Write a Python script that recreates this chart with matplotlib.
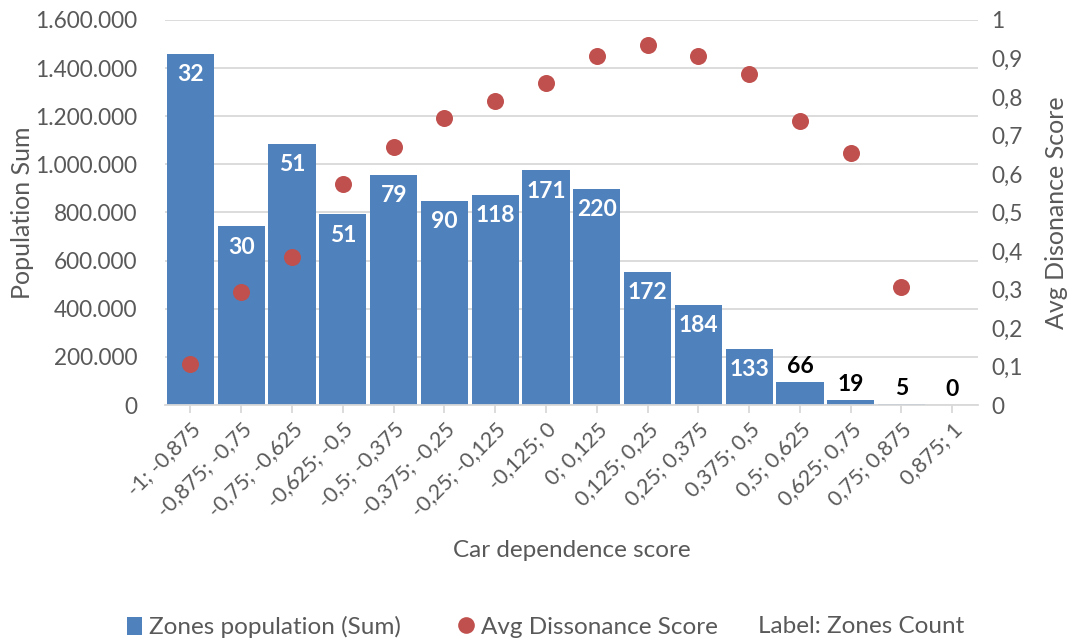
import matplotlib
matplotlib.use("Agg")
import matplotlib.pyplot as plt
from matplotlib.lines import Line2D
from matplotlib.patches import Patch
from matplotlib.ticker import FuncFormatter, MultipleLocator

# Car dependence score bins
bins = ["-1; -0,875", "-0,875; -0,75", "-0,75; -0,625", "-0,625; -0,5",
        "-0,5; -0,375", "-0,375; -0,25", "-0,25; -0,125", "-0,125; 0",
        "0; 0,125", "0,125; 0,25", "0,25; 0,375", "0,375; 0,5",
        "0,5; 0,625", "0,625; 0,75", "0,75; 0,875", "0,875; 1"]

# Summed population of zones in each bin
population = [1460000, 743000, 1085000, 793000, 957000, 848000, 873000, 975000,
              898000, 554000, 416000, 234000, 94000, 21000, 3000, 0]

# Number of zones in each bin (used as bar labels)
zone_count = [32, 30, 51, 51, 79, 90, 118, 171, 220, 172, 184, 133, 66, 19, 5, 0]

# Average dissonance score per bin (no value for the last bin)
dissonance = [0.107, 0.294, 0.384, 0.574, 0.671, 0.746, 0.790, 0.836,
              0.906, 0.934, 0.906, 0.859, 0.738, 0.655, 0.306, None]

BLUE = "#4f81bd"
RED = "#c0504d"
GRAY = "#595959"
GRID = "#d9d9d9"
FONT = "Lato"

plt.rcParams["font.family"] = [FONT, "DejaVu Sans"]

fig = plt.figure(figsize=(10.72, 6.41), dpi=100)
ax = fig.add_axes([0.154, 0.368, 0.758, 0.601])
ax2 = ax.twinx()

x = list(range(len(bins)))
ax.bar(x, population, width=0.93, color=BLUE, zorder=2)

dx = [i for i, v in zip(x, dissonance) if v is not None]
dy = [v for v in dissonance if v is not None]
ax2.scatter(dx, dy, s=150, color=RED, zorder=3, linewidths=0)

ax.set_xlim(-0.5, len(bins) - 0.5)
ax.set_ylim(0, 1600000)
ax2.set_ylim(0, 1)
ax.yaxis.set_major_locator(MultipleLocator(200000))
ax2.yaxis.set_major_locator(MultipleLocator(0.1))

ax.yaxis.set_major_formatter(FuncFormatter(lambda v, p: f"{int(v):,}".replace(",", ".")))
ax2.yaxis.set_major_formatter(FuncFormatter(
    lambda v, p: "0" if abs(v) < 1e-9 else ("1" if abs(v - 1) < 1e-9 else f"{v:.1f}".replace(".", ","))))

ax.grid(axis="y", color=GRID, linewidth=1.3, zorder=0)
ax.set_axisbelow(True)

for a in (ax, ax2):
    for s in ("top", "left", "right", "bottom"):
        a.spines[s].set_visible(False)
ax.tick_params(axis="y", length=0, labelsize=16.3, colors=GRAY, pad=20)
ax2.tick_params(axis="y", length=0, labelsize=16.3, colors=GRAY, pad=10)
ax.spines["bottom"].set_visible(True)
ax.spines["bottom"].set_color(GRID)
ax.spines["bottom"].set_linewidth(1.3)

ax.set_xticks(x)
ax.set_xticklabels(bins, rotation=45, ha="right", va="top", rotation_mode="anchor")
ax.tick_params(axis="x", length=6, color=GRID, width=1.3, labelsize=15.5, labelcolor=GRAY, pad=4)

ax.set_xlabel("Car dependence score", fontsize=17.5, color=GRAY, labelpad=14)
ax.set_ylabel("Population Sum", fontsize=18, color=GRAY)
ax2.set_ylabel("Avg Disonance Score", fontsize=18, color=GRAY)
ax.yaxis.set_label_coords(-0.161, 0.5)
ax2.yaxis.set_label_coords(1.083, 0.5)

# Zone counts: inside the top of tall bars, above the short ones
for xi, pop, n in zip(x, population, zone_count):
    if pop > 150000:
        ax.annotate(str(n), (xi, pop), xytext=(0, -15), textcoords="offset points",
                    ha="center", va="center", color="white", fontsize=16.5, fontweight="bold", zorder=4)
    else:
        ax.annotate(str(n), (xi, pop), xytext=(0, 4), textcoords="offset points",
                    ha="center", va="bottom", color="black", fontsize=16.5, fontweight="bold", zorder=4)

handles = [Patch(facecolor=BLUE, edgecolor="none"),
           Line2D([], [], marker="o", linestyle="none", markersize=12, markerfacecolor=RED,
                  markeredgewidth=0)]
labels = ["Zones population (Sum)", "Avg Dissonance Score"]
fig.legend(handles, labels, loc="lower left", bbox_to_anchor=(0.098, -0.03), ncol=2,
           frameon=False, fontsize=17.5, labelcolor=GRAY, handlelength=0.6, handleheight=0.8,
           handletextpad=0.3, columnspacing=2.4)
fig.text(0.707, 0.023, "Label: Zones Count", fontsize=17.5, color=GRAY, ha="left", va="center")

fig.savefig("out.png", dpi=100)
